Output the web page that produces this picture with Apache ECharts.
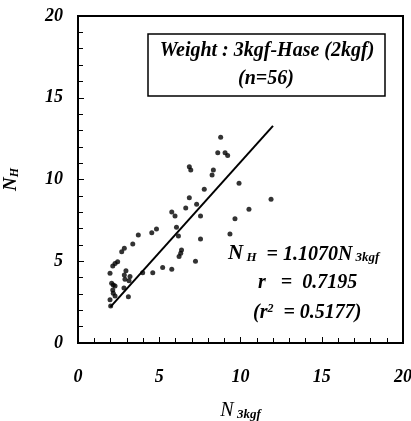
<!DOCTYPE html>
<html>
<head>
<meta charset="utf-8">
<script src="https://cdn.jsdelivr.net/npm/echarts@6/dist/echarts.min.js"></script>
<style>
  html, body { margin: 0; padding: 0; background: #fff; }
  #main { width: 411px; height: 421px; background: #fff; }
</style>
</head>
<body>
<div id="main"></div>
<script>
// N_3kgf (x) vs N_H (y), n = 56
var xVals = [8.78, 8.60, 9.05, 9.21, 6.85, 6.94, 8.33, 8.25, 7.77, 9.91,
             6.85, 7.30, 6.63, 5.77, 5.97, 7.54, 6.06, 9.66, 10.52, 11.88,
             4.83, 4.54, 3.71, 7.54, 9.35, 6.18, 3.37, 2.85, 2.69, 6.37,
             6.32, 6.22, 7.23, 2.44, 2.28, 2.14, 1.97, 2.95, 2.85, 3.20,
             2.89, 3.14, 3.98, 4.60, 5.21, 5.77, 2.07, 2.17, 2.28, 2.14,
             2.17, 2.28, 3.10, 2.83, 2.01, 1.97];
var yVals = [12.58, 11.64, 11.64, 11.47, 10.78, 10.58, 10.58, 10.28, 9.40, 9.77,
             8.89, 8.48, 8.26, 8.01, 7.77, 7.77, 7.08, 7.60, 8.18, 8.79,
             6.97, 6.75, 6.61, 6.36, 6.67, 6.54, 6.06, 5.79, 5.58, 5.69,
             5.49, 5.29, 5.00, 4.97, 4.87, 4.71, 4.26, 4.42, 4.16, 4.06,
             3.90, 3.81, 4.30, 4.30, 4.62, 4.51, 3.65, 3.55, 3.49, 3.24,
             3.04, 2.87, 2.83, 3.36, 2.26, 2.65];

var slope = 1.1070;
var lineX = [2, 12];
var axisTicks = [0, 5, 10, 15, 20];

var points = xVals.map(function (x, i) { return [x, yVals[i]]; });
var fitLine = lineX.map(function (x) { return [x, slope * x]; });

var serif = '"Liberation Serif", "DejaVu Serif", serif';

var myChart = echarts.init(document.getElementById('main'));

function makeAxis(margin) {
  return {
    type: 'value',
    z: 10,
    min: axisTicks[0],
    max: axisTicks[axisTicks.length - 1],
    interval: 5,
    axisLine: { show: true, onZero: false, lineStyle: { color: '#000', width: 2 } },
    axisTick: { show: true, inside: true, length: 6, lineStyle: { color: '#000', width: 1 } },
    minorTick: { show: true, splitNumber: 5, length: 5, lineStyle: { color: '#000', width: 1 } },
    splitLine: { show: false },
    axisLabel: {
      margin: margin, color: '#000', fontFamily: serif, fontStyle: 'italic', fontWeight: 'bold', fontSize: 18
    }
  };
}

var xAxis = makeAxis(25);
xAxis.name = '{n|N}{s| 3kgf}';
xAxis.nameLocation = 'middle';
xAxis.nameGap = 58;
xAxis.nameTextStyle = {
  rich: {
    n: { fontFamily: serif, fontStyle: 'italic', fontSize: 20, color: '#000', verticalAlign: 'bottom' },
    s: { fontFamily: serif, fontStyle: 'italic', fontWeight: 'bold', fontSize: 13, color: '#000', verticalAlign: 'bottom' }
  }
};

var yAxis = makeAxis(15);
yAxis.name = '{n|N}{s|H}';
yAxis.nameLocation = 'middle';
yAxis.nameRotate = 90;
yAxis.nameGap = 57;
yAxis.nameTextStyle = {
  rich: {
    n: { fontFamily: serif, fontStyle: 'italic', fontWeight: 'bold', fontSize: 19, color: '#000', verticalAlign: 'bottom' },
    s: { fontFamily: serif, fontStyle: 'italic', fontWeight: 'bold', fontSize: 12, color: '#000', verticalAlign: 'bottom' }
  }
};

var option = {
  animation: false,
  grid: {
    left: 78, right: 8, top: 16, bottom: 78,
    outerBoundsMode: 'none',
    show: true, backgroundColor: 'transparent', borderColor: '#000', borderWidth: 2
  },
  xAxis: xAxis,
  yAxis: yAxis,
  series: [
    {
      type: 'scatter',
      data: points,
      symbol: 'circle',
      symbolSize: 5,
      itemStyle: { color: '#000' }
    },
    {
      type: 'line',
      data: fitLine,
      symbol: 'none',
      lineStyle: { color: '#000', width: 2 }
    }
  ],
  graphic: [
    {
      type: 'rect',
      shape: { x: 148, y: 34, width: 237, height: 62 },
      style: { fill: '#fff', stroke: '#000', lineWidth: 1.5 }
    },
    {
      type: 'text',
      x: 267, y: 51,
      style: {
        text: 'Weight : 3kgf-Hase (2kgf)',
        font: 'italic bold 20px ' + serif,
        fill: '#000', align: 'center', verticalAlign: 'middle'
      }
    },
    {
      type: 'text',
      x: 266, y: 79,
      style: {
        text: '(n=56)',
        font: 'italic bold 20px ' + serif,
        fill: '#000', align: 'center', verticalAlign: 'middle'
      }
    },
    {
      type: 'text',
      x: 228, y: 254,
      style: {
        text: '{n|N}{s| H}{t|  = 1.1070N}{s| 3kgf}',
        verticalAlign: 'middle',
        rich: {
          n: { font: 'italic bold 21px ' + serif, fill: '#000', verticalAlign: 'bottom' },
          t: { font: 'italic bold 20px ' + serif, fill: '#000', verticalAlign: 'bottom' },
          s: { font: 'italic bold 13px ' + serif, fill: '#000', verticalAlign: 'bottom' }
        }
      }
    },
    {
      type: 'text',
      x: 258, y: 283,
      style: {
        text: 'r   =  0.7195',
        font: 'italic bold 20px ' + serif,
        fill: '#000', verticalAlign: 'middle'
      }
    },
    {
      type: 'text',
      x: 253, y: 313,
      style: {
        text: '{t|(r}{p|2}{t|  = 0.5177)}',
        verticalAlign: 'middle',
        rich: {
          t: { font: 'italic bold 20px ' + serif, fill: '#000', verticalAlign: 'bottom' },
          p: { font: 'italic bold 12px ' + serif, fill: '#000', verticalAlign: 'top' }
        }
      }
    }
  ]
};

myChart.setOption(option);
window.onresize = function () {
  myChart.resize();
};
</script>
</body>
</html>
